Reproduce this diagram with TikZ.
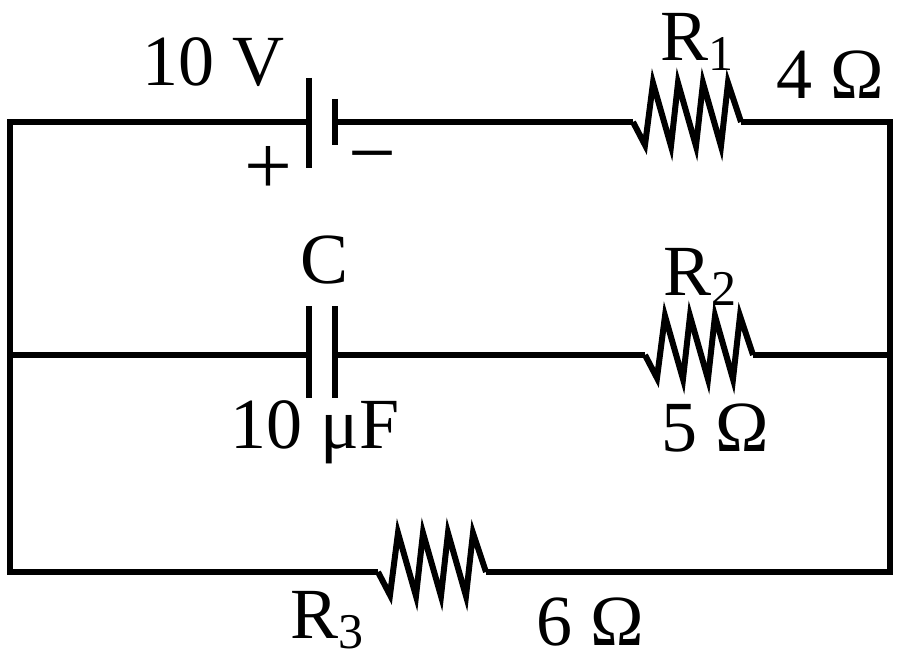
\documentclass[tikz,border=0pt]{standalone}
\usepackage{fontspec}
\setmainfont{Liberation Serif}
\newcommand{\mysub}[1]{\raisebox{-0.13em}{\fontsize{50}{55}\selectfont #1}}
\begin{document}
\begin{tikzpicture}[x=1pt,y=-1pt,line width=6pt,line join=miter,
  lbl/.style={inner sep=0pt,font=\fontsize{72}{80}\selectfont},
  res/.pic={\draw (0,0)--(12,23)--(20,-39)--(38,24)--(45,-39)--(63,24)--(70,-39)--(88,24)--(95,-39)--(108,0);}]
\useasboundingbox (0,0) rectangle (900,663);
% corners
\coordinate (tl) at (10,122); \coordinate (tr) at (890,122);
\coordinate (ml) at (10,355); \coordinate (mr) at (890,355);
\coordinate (bl) at (10,572); \coordinate (br) at (890,572);
% battery
\coordinate (b1) at (309,122); \coordinate (b2) at (335,122);
\draw (309,78)--(309,168);
\draw (335,99)--(335,145);
% R1
\coordinate (r1a) at (633,122); \coordinate (r1b) at (741,122);
\pic at (r1a) {res};
% capacitor
\coordinate (c1) at (309,355); \coordinate (c2) at (335,355);
\draw (309,306)--(309,398);
\draw (335,306)--(335,398);
% R2
\coordinate (r2a) at (645,355); \coordinate (r2b) at (753,355);
\pic at (r2a) {res};
% R3
\coordinate (r3a) at (378,572); \coordinate (r3b) at (486,572);
\pic at (r3a) {res};
% wires
\draw (b1)--(tl)--(bl)--(r3a);
\draw (r3b)--(br)--(tr)--(r1b);
\draw (b2)--(r1a);
\draw (ml)--(c1);
\draw (c2)--(r2a);
\draw (r2b)--(mr);
% labels
\node[lbl] (t1) at (213,62) {10 V};
\node[lbl,font=\fontsize{85}{90}\selectfont] (t2) at (268,170) {+};
\node[lbl,font=\fontsize{85}{90}\selectfont] (t3) at (372,166) {−};
\node[lbl] (t4) at (697,42) {R\mysub{1}};
\node[lbl] (t5) at (830,75) {4 Ω};
\node[lbl] (t6) at (325,260) {C};
\node[lbl] (t7) at (315,432) {10 μF};
\node[lbl] (t8) at (700,277) {R\mysub{2}};
\node[lbl] (t9) at (715,428) {5 Ω};
\node[lbl] (t10) at (327,620) {R\mysub{3}};
\node[lbl] (t11) at (590,622) {6 Ω};
\end{tikzpicture}
\end{document}
